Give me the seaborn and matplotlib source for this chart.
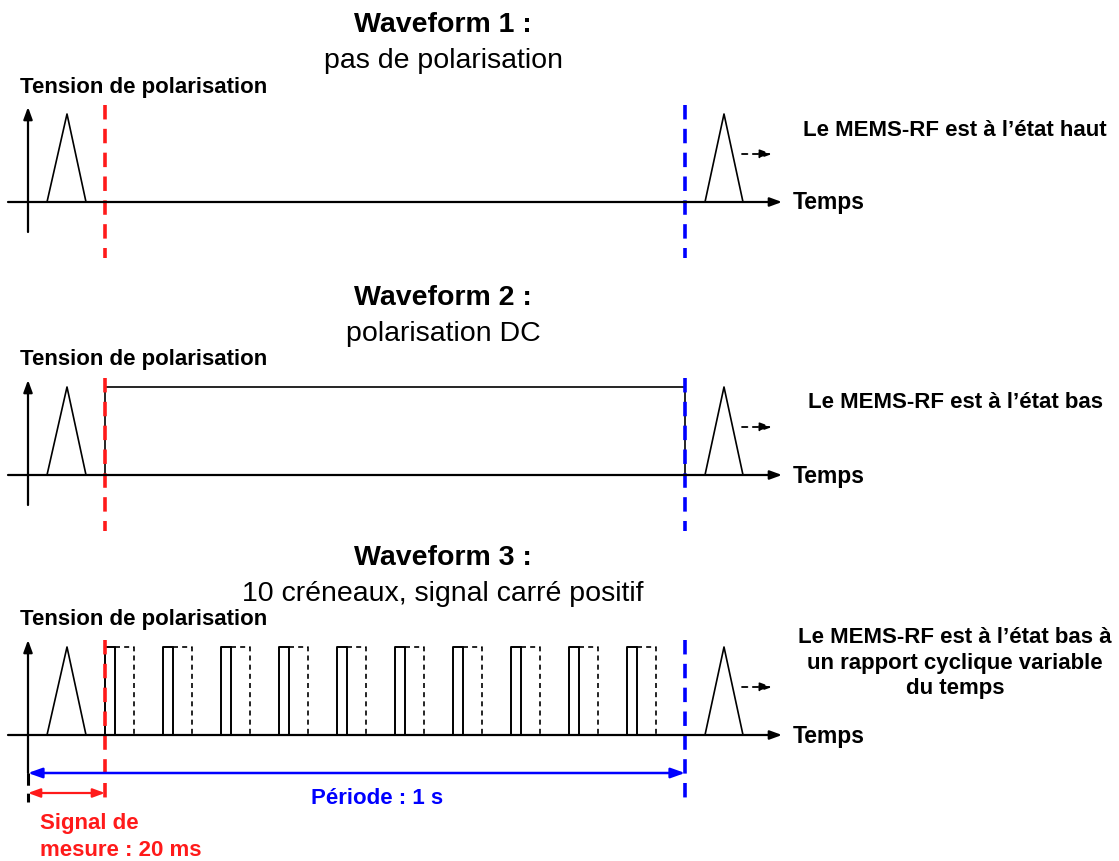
import pandas as pd
import seaborn as sns
import matplotlib
matplotlib.use("Agg")
import matplotlib.pyplot as plt

# --- diagram content (schematic units, y grows downward) ---
titles = ["Waveform 1 :", "Waveform 2 :", "Waveform 3 :"]
subtitles = ["pas de polarisation", "polarisation DC", "10 créneaux, signal carré positif"]
state_labels = [
    "Le MEMS-RF est à l’état haut",
    "Le MEMS-RF est à l’état bas",
    "Le MEMS-RF est à l’état bas à\nun rapport cyclique variable\ndu temps",
]
baselines = [202, 475, 735]
level = 88                      # height of triangle / DC / pulses

trig1_x = [47, 67, 86]          # first actuation ramp
trig2_x = [705, 724, 743]       # next actuation ramp
measure_end = 105               # end of 20 ms measurement (red)
period_end = 685                # end of 1 s period (blue)

pulse_starts = [105, 163, 221, 279, 337, 395, 453, 511, 569, 627]
pulse_on = 10                   # solid part of a créneau
pulse_span = 29                 # dashed (variable) part end

axis_x0, axis_yx, axis_x1 = 8, 28, 782

sns.set_theme(style="white")
plt.rcParams["font.family"] = ["Liberation Sans", "DejaVu Sans"]
plt.rcParams["text.color"] = "black"

fig = plt.figure(figsize=(11.19, 8.61), dpi=100)
ax = fig.add_axes([0, 0, 1, 1])
ax.set_xlim(0, 1119)
ax.set_ylim(861, 0)
ax.axis("off")

K = "black"
RED = "#ff1a1a"
BLUE = "#0000ff"
arrow_k = dict(arrowstyle="-|>,head_length=0.6,head_width=0.22", color=K, lw=1.6,
               shrinkA=0, shrinkB=0)


def trace(xs, ys, **kw):
    df = pd.DataFrame({"x": xs, "y": ys})
    sns.lineplot(data=df, x="x", y="y", sort=False, estimator=None, ax=ax,
                 legend=False, **kw)


for i, b in enumerate(baselines):
    top = b - level
    # titles
    ax.text(443, b - 177, titles[i], ha="center", va="center", fontsize=20.5,
            fontweight="bold")
    ax.text(443, b - 141, subtitles[i], ha="center", va="center", fontsize=20.5)
    ax.text(20, b - 115, "Tension de polarisation", ha="left", va="center",
            fontsize=16, fontweight="bold")

    # axes
    y_bottom = 773 if i == 2 else b + 30
    ax.annotate("", xy=(axis_yx, b - 95), xytext=(axis_yx, y_bottom), arrowprops=arrow_k)
    ax.annotate("", xy=(axis_x1, b), xytext=(axis_x0, b), arrowprops=arrow_k)
    ax.text(793, b + 1, "Temps", ha="left", va="center", fontsize=16.5,
            fontweight="bold")

    # actuation ramps
    trace(trig1_x, [b, top, b], color=K, lw=1.2)
    trace(trig2_x, [b, top, b], color=K, lw=1.2)
    ax.annotate("", xy=(772, b - 48), xytext=(742, b - 48),
                arrowprops=dict(arrowstyle="-|>,head_length=0.6,head_width=0.22",
                                color=K, lw=1.3, ls=(0, (3, 3)),
                                shrinkA=0, shrinkB=0))

    ax.text(955, b - 72, state_labels[i], ha="center", va="center", fontsize=16,
            fontweight="bold", linespacing=1.27)

    # signal
    if i == 1:
        trace([measure_end, measure_end, period_end, period_end], [b, top, top, b],
              color=K, lw=1.2)
    if i == 2:
        for s in pulse_starts:
            trace([s, s, s + pulse_on, s + pulse_on], [b, top, top, b], color=K, lw=1.4)
            trace([s + pulse_on, s + pulse_span, s + pulse_span], [top, top, b],
                  color=K, lw=1.2, linestyle=(0, (3, 2.5)))

    # markers of measurement / period
    y0, y1 = (b - 95, b + 65) if i == 2 else (b - 97, b + 56)
    ax.plot([measure_end, measure_end], [y0, y1], color=RED, lw=2.6,
            ls=(0, (4, 2.6)))
    ax.plot([period_end, period_end], [y0, y1], color=BLUE, lw=2.6,
            ls=(0, (4, 2.6)))

# time spans under waveform 3
ax.plot([axis_yx, axis_yx], [773, 802], color=K, lw=2.2, ls=(0, (4, 2.6)))
ax.annotate("", xy=(axis_yx, 773), xytext=(period_end, 773),
            arrowprops=dict(arrowstyle="<|-|>,head_length=0.7,head_width=0.25",
                            color=BLUE, lw=1.8, shrinkA=0, shrinkB=0))
ax.annotate("", xy=(axis_yx, 793), xytext=(measure_end, 793),
            arrowprops=dict(arrowstyle="<|-|>,head_length=0.6,head_width=0.22",
                            color=RED, lw=1.6, shrinkA=0, shrinkB=0))
ax.text(377, 798, "Période : 1 s", ha="center", va="center", fontsize=16,
        fontweight="bold", color=BLUE)
ax.text(40, 837, "Signal de\nmesure : 20 ms", ha="left", va="center", fontsize=16,
        fontweight="bold", color=RED, linespacing=1.32)

fig.savefig("out.png", dpi=100)
plt.close(fig)
